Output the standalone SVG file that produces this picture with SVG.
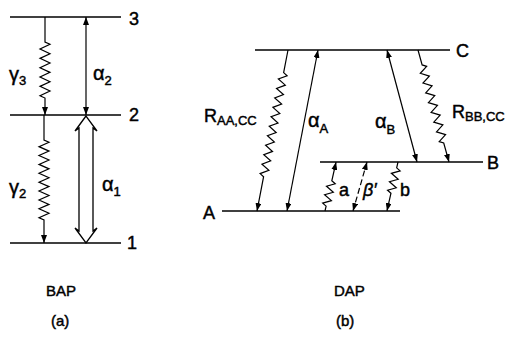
<svg xmlns="http://www.w3.org/2000/svg" width="512" height="343" viewBox="0 0 512 343">
<style>
.lvl{stroke:#000;stroke-width:1.6;fill:none}
.ln{stroke:#000;stroke-width:1.2;fill:none}
.t{font-family:"Liberation Sans",Arial,sans-serif;fill:#000;stroke:#000;stroke-width:0.45}
.big{font-size:18px}
.gr{font-size:20px}
.sub{font-size:13px}
.cap{font-size:15px}
</style>
<defs>
<marker id="ah" markerUnits="userSpaceOnUse" markerWidth="8" markerHeight="6" viewBox="0 0 8 6" refX="8" refY="3" orient="auto-start-reverse">
<path d="M0,0 L8,3 L0,6 Z" fill="#000"/>
</marker>
</defs>
<rect width="512" height="343" fill="#fff"/>

<!-- Panel (a) -->
<g id="level3"><line class="lvl" x1="10" y1="17" x2="121" y2="17"/><text class="t big" x="129" y="25">3</text></g>
<g id="level2"><line class="lvl" x1="10" y1="115" x2="121" y2="115"/><text class="t big" x="129" y="121">2</text></g>
<g id="level1"><line class="lvl" x1="10" y1="243" x2="121" y2="243"/><text class="t big" x="127" y="249">1</text></g>

<g id="connectors">
<path class="ln" marker-end="url(#ah)" d="M45,17 V42 l5,2.33 l-10,4.67 l10,4.67 l-10,4.67 l10,4.67 l-10,4.67 l10,4.67 l-10,4.67 l10,4.67 l-10,4.67 l10,4.67 l-10,4.67 l5,2.33 V115"/>
<line class="ln" x1="86" y1="17" x2="86" y2="115" marker-start="url(#ah)" marker-end="url(#ah)"/>
<path class="ln" marker-end="url(#ah)" d="M44,115 V140 l5,2.22 l-10,4.44 l10,4.44 l-10,4.44 l10,4.44 l-10,4.44 l10,4.44 l-10,4.44 l10,4.44 l-10,4.44 l10,4.44 l-10,4.44 l10,4.44 l-10,4.44 l10,4.44 l-10,4.44 l10,4.44 l-10,4.44 l5,2.22 V243"/>
<polygon points="86,116 75,131 79,128 79,231 75,228 86,243 97,228 93,231 93,128 97,131" fill="#fff" stroke="#000" stroke-width="1.3"/>

<g transform="translate(288,50) rotate(100.9)">
<path class="ln" marker-end="url(#ah)" d="M0,0 H23 l2.41,-4 l4.82,8 l4.82,-8 l4.82,8 l4.82,-8 l4.82,8 l4.82,-8 l4.82,8 l4.82,-8 l4.82,8 l4.82,-8 l4.82,8 l4.82,-8 l4.82,8 l4.82,-8 l4.82,8 l4.82,-8 l4.82,8 l4.82,-8 l4.82,8 l4.82,-8 l4.82,8 l2.41,-4 H164"/>
</g>
<line class="ln" x1="318" y1="50" x2="287" y2="211" marker-start="url(#ah)" marker-end="url(#ah)"/>
<line class="ln" x1="387" y1="50" x2="417" y2="162" marker-start="url(#ah)" marker-end="url(#ah)"/>
<g transform="translate(418,50) rotate(74.53)">
<path class="ln" marker-end="url(#ah)" d="M0,0 H15.5 l2.53,-4 l5.06,8 l5.06,-8 l5.06,8 l5.06,-8 l5.06,8 l5.06,-8 l5.06,8 l5.06,-8 l5.06,8 l5.06,-8 l5.06,8 l5.06,-8 l5.06,8 l5.06,-8 l5.06,8 l2.53,-4 H116.2"/>
</g>
<g transform="translate(325,211) rotate(-77.3)">
<path class="ln" marker-end="url(#ah)" d="M0,0 H5 l2.17,-4 l4.33,8 l4.33,-8 l4.33,8 l4.33,-8 l4.33,8 l2.17,-4 H50.2"/>
</g>
<line class="ln" x1="367" y1="162" x2="353" y2="211" stroke-dasharray="6,3" marker-start="url(#ah)" marker-end="url(#ah)"/>
<g transform="translate(398,162) rotate(102.7)">
<path class="ln" marker-end="url(#ah)" d="M0,0 H6 l2.17,-4 l4.33,8 l4.33,-8 l4.33,8 l4.33,-8 l4.33,8 l2.17,-4 H50.2"/>
</g>
</g>

<g id="levelC"><line class="lvl" x1="255" y1="50" x2="450" y2="50"/><text class="t big" x="456" y="57">C</text></g>
<g id="levelB"><line class="lvl" x1="320" y1="162" x2="483" y2="162"/><text class="t big" x="487" y="169">B</text></g>
<g id="levelA"><line class="lvl" x1="222" y1="211" x2="400" y2="211"/><text class="t big" x="203" y="219">A</text></g>

<g id="labels">
<text class="t" x="9" y="81"><tspan class="gr">γ</tspan><tspan class="sub" dy="4">3</tspan></text>
<text class="t" x="93" y="80"><tspan class="gr">α</tspan><tspan class="sub" dy="5">2</tspan></text>
<text class="t" x="9" y="194"><tspan class="gr">γ</tspan><tspan class="sub" dy="4">2</tspan></text>
<text class="t" x="102" y="191"><tspan class="gr">α</tspan><tspan class="sub" dy="5">1</tspan></text>
<text class="t" x="204" y="122"><tspan class="big">R</tspan><tspan class="sub" dy="3">AA,CC</tspan></text>
<text class="t" x="308" y="127"><tspan class="gr">α</tspan><tspan class="sub" dy="6">A</tspan></text>
<text class="t" x="375" y="128"><tspan class="gr">α</tspan><tspan class="sub" dy="6">B</tspan></text>
<text class="t" x="452" y="118"><tspan class="big">R</tspan><tspan class="sub" dy="3">BB,CC</tspan></text>
<text class="t big" x="339" y="196">a</text>
<text class="t big" x="363" y="196" font-style="italic">β′</text>
<text class="t big" x="400" y="196">b</text>
<text class="t cap" x="46" y="296">BAP</text>
<text class="t cap" x="334" y="296">DAP</text>
<text class="t cap" x="51" y="326">(a)</text>
<text class="t cap" x="336" y="326">(b)</text>
</g>
</svg>
